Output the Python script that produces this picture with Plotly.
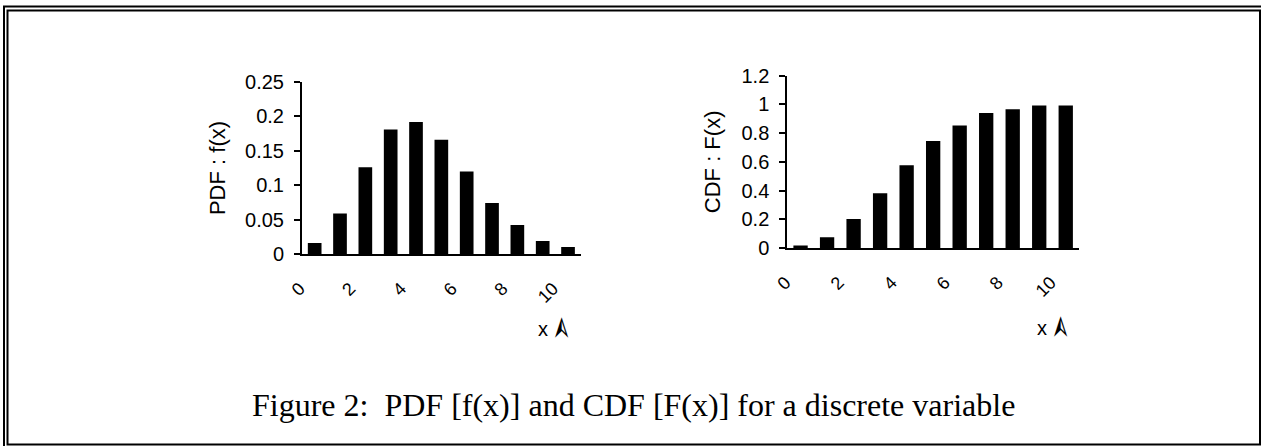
import plotly.graph_objects as go

W, H = 1261, 446

x_values = list(range(11))
pdf_values = [0.016, 0.059, 0.126, 0.181, 0.192, 0.166, 0.120, 0.074, 0.042, 0.019, 0.010]
cdf_values = [0.018, 0.074, 0.202, 0.381, 0.576, 0.745, 0.854, 0.940, 0.966, 0.993, 0.993]
x_tick_vals = [0, 2, 4, 6, 8, 10]
x_tick_text = ["0", "2", "4", "6", "8", "10"]
pdf_ticks = [0, 0.05, 0.1, 0.15, 0.2, 0.25]
cdf_ticks = [0, 0.2, 0.4, 0.6, 0.8, 1.0, 1.2]
caption = "Figure 2:  PDF [f(x)] and CDF [F(x)] for a discrete variable"

SANS = "Liberation Sans, Arial, sans-serif"
SERIF = "Liberation Serif, Times New Roman, serif"


def px(v):
    return v / W


def py(v):
    return 1 - v / H


fig = go.Figure()
fig.add_trace(go.Bar(x=x_values, y=pdf_values, marker=dict(color="black", line=dict(width=0)),
                     xaxis="x", yaxis="y", showlegend=False))
fig.add_trace(go.Bar(x=x_values, y=cdf_values, marker=dict(color="black", line=dict(width=0)),
                     xaxis="x2", yaxis="y2", showlegend=False))

xcommon = dict(range=[-0.5, 10.5], tickmode="array", tickvals=x_tick_vals, ticktext=x_tick_text,
               tickangle=-45, showgrid=False, zeroline=False, showline=True, linecolor="black",
               linewidth=2, ticks="", tickfont=dict(family=SANS, size=18, color="black"),
               ticklabelshift=-15, ticklabelstandoff=15, fixedrange=True, automargin=False)
ycommon = dict(showgrid=False, zeroline=False, showline=True, linecolor="black", linewidth=2,
               ticks="outside", ticklen=6, tickwidth=2, tickcolor="black", ticklabelstandoff=6,
               tickfont=dict(family=SANS, size=20, color="black"), fixedrange=True, automargin=False)
yover = dict(showticklabels=False, ticks="inside", ticklen=6, tickwidth=2, tickcolor="black",
             showgrid=False, zeroline=False, showline=False, fixedrange=True, automargin=False)

L_dom_x = [px(302), px(580.7)]
L_dom_y = [py(254), py(82)]
R_dom_x = [px(787.3), px(1079)]
R_dom_y = [py(248), py(75.7)]

fig.update_layout(
    width=W, height=H,
    margin=dict(l=0, r=0, t=0, b=0, pad=0, autoexpand=False),
    paper_bgcolor="white", plot_bgcolor="white",
    bargap=0.46,
    xaxis=dict(domain=L_dom_x, anchor="y", **xcommon),
    yaxis=dict(domain=L_dom_y, anchor="x", range=[0, 0.25], tickmode="array", tickvals=pdf_ticks,
               ticktext=["0", "0.05", "0.1", "0.15", "0.2", "0.25"],
               title=dict(text="PDF : f(x)", font=dict(family=SANS, size=22, color="black"), standoff=13),
               **ycommon),
    yaxis3=dict(domain=L_dom_y, anchor="x", overlaying="y", range=[0, 0.25], tickmode="array",
                tickvals=pdf_ticks, **yover),
    xaxis2=dict(domain=R_dom_x, anchor="y2", **xcommon),
    yaxis2=dict(domain=R_dom_y, anchor="x2", range=[0, 1.2], tickmode="array", tickvals=cdf_ticks,
                ticktext=["0", "0.2", "0.4", "0.6", "0.8", "1", "1.2"],
                title=dict(text="CDF : F(x)", font=dict(family=SANS, size=22, color="black"), standoff=15),
                **ycommon),
    yaxis4=dict(domain=R_dom_y, anchor="x2", overlaying="y2", range=[0, 1.2], tickmode="array",
                tickvals=cdf_ticks, **yover),
)

# x axis labels "x" + arrowhead
for xx, yy in [(543, 329), (1042, 328)]:
    fig.add_annotation(x=px(xx), y=py(yy), xref="paper", yref="paper", text="x", showarrow=False,
                       font=dict(family=SANS, size=20, color="black"), xanchor="center", yanchor="middle")
    fig.add_annotation(x=px(xx + 17), y=py(yy), xref="paper", yref="paper", text="\u27a3",
                       textangle=-90, showarrow=False,
                       font=dict(family="DejaVu Sans", size=30, color="black"),
                       xanchor="center", yanchor="middle")

fig.add_annotation(x=px(633.5), y=py(405), xref="paper", yref="paper", text=caption, showarrow=False,
                   font=dict(family=SERIF, size=32, color="black"), xanchor="center", yanchor="middle")

# frame (double rule at top/left)
fig.add_shape(type="rect", xref="paper", yref="paper", x0=px(4), y0=-0.05, x1=1.05, y1=py(6.5),
              line=dict(color="black", width=2), fillcolor="rgba(0,0,0,0)")
fig.add_shape(type="rect", xref="paper", yref="paper", x0=px(7.5), y0=py(444.5), x1=px(1260), y1=py(10.5),
              line=dict(color="black", width=2), fillcolor="rgba(0,0,0,0)")

fig.write_html("out.html", post_script="document.body.style.margin='0';document.body.style.overflow='hidden';")
